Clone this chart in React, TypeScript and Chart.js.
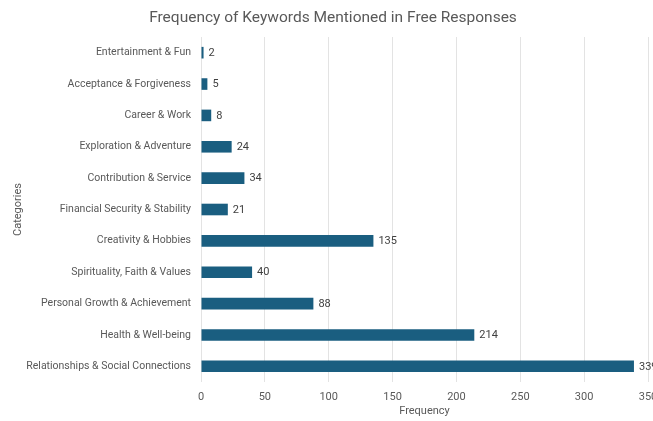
import React, { useEffect, useRef } from "react";
import { Chart, registerables } from "chart.js";

Chart.register(...registerables);

const chartTitle = "Frequency of Keywords Mentioned in Free Responses";

const categories = [
  "Entertainment & Fun",
  "Acceptance & Forgiveness",
  "Career & Work",
  "Exploration & Adventure",
  "Contribution & Service",
  "Financial Security & Stability",
  "Creativity & Hobbies",
  "Spirituality, Faith & Values",
  "Personal Growth & Achievement",
  "Health & Well-being",
  "Relationships & Social Connections",
];

const frequencies = [2, 5, 8, 24, 34, 21, 135, 40, 88, 214, 339];

const xTicksMin = 0;
const xTicksMax = 350;
const xTickStep = 50;

const FONT = "Roboto, 'Noto Sans', sans-serif";
const TEXT = "#595959";

const valueLabels = {
  id: "valueLabels",
  afterDatasetsDraw(chart: any) {
    const ctx = chart.ctx;
    const meta = chart.getDatasetMeta(0);
    const ds = chart.data.datasets[0];
    ctx.save();
    ctx.font = `11px ${FONT}`;
    ctx.fillStyle = "#404040";
    ctx.textAlign = "left";
    ctx.textBaseline = "middle";
    meta.data.forEach((el: any, i: number) => {
      ctx.fillText(String(ds.data[i]), el.x + 5, el.y + 0.5);
    });
    ctx.restore();
  },
};

const titleDrawer = {
  id: "titleDrawer",
  afterDraw(chart: any) {
    const ctx = chart.ctx;
    ctx.save();
    ctx.font = `15.5px ${FONT}`;
    ctx.fillStyle = TEXT;
    ctx.textAlign = "center";
    ctx.textBaseline = "middle";
    ctx.fillText(chartTitle, 333, 18);
    ctx.restore();
  },
};

export default function App() {
  const ref = useRef<HTMLCanvasElement | null>(null);

  useEffect(() => {
    document.body.style.margin = "0";
    const chart = new Chart(ref.current as HTMLCanvasElement, {
      type: "bar",
      data: {
        labels: categories,
        datasets: [
          {
            data: frequencies,
            backgroundColor: "#1a5e80",
            borderWidth: 0,
            categoryPercentage: 1,
            barPercentage: 0.37,
          },
        ],
      },
      options: {
        indexAxis: "y",
        responsive: false,
        animation: false,
        layout: { padding: { left: 0, right: 5, top: 37, bottom: 0 } },
        plugins: {
          legend: { display: false },
          tooltip: { enabled: false },
          title: { display: false },
        },
        scales: {
          x: {
            min: xTicksMin,
            max: xTicksMax,
            ticks: {
              stepSize: xTickStep,
              color: TEXT,
              font: { family: FONT, size: 11 },
              padding: 9,
            },
            grid: { color: "#e3e3e3", drawTicks: false },
            border: { display: false },
            title: {
              display: true,
              text: "Frequency",
              color: TEXT,
              font: { family: FONT, size: 11 },
              padding: { top: 0, bottom: 3 },
            },
            afterFit(scale: any) {
              scale.paddingRight = 0;
              scale.paddingLeft = 0;
              scale.height = 39;
            },
          },
          y: {
            ticks: {
              color: TEXT,
              font: { family: FONT, size: 10.5 },
              padding: 10,
            },
            grid: { display: false, drawTicks: false },
            border: { display: false },
            title: {
              display: true,
              text: "Categories",
              color: TEXT,
              font: { family: FONT, size: 11 },
              padding: { top: 12, bottom: 0 },
            },
            afterFit(scale: any) {
              scale.width = 201;
            },
          },
        },
      },
      plugins: [valueLabels, titleDrawer],
    });
    return () => chart.destroy();
  }, []);

  return (
    <div style={{ position: "absolute", left: 0, top: 0, width: 653, height: 421, background: "#fff" }}>
      <canvas ref={ref} width={653} height={421} />
    </div>
  );
}
